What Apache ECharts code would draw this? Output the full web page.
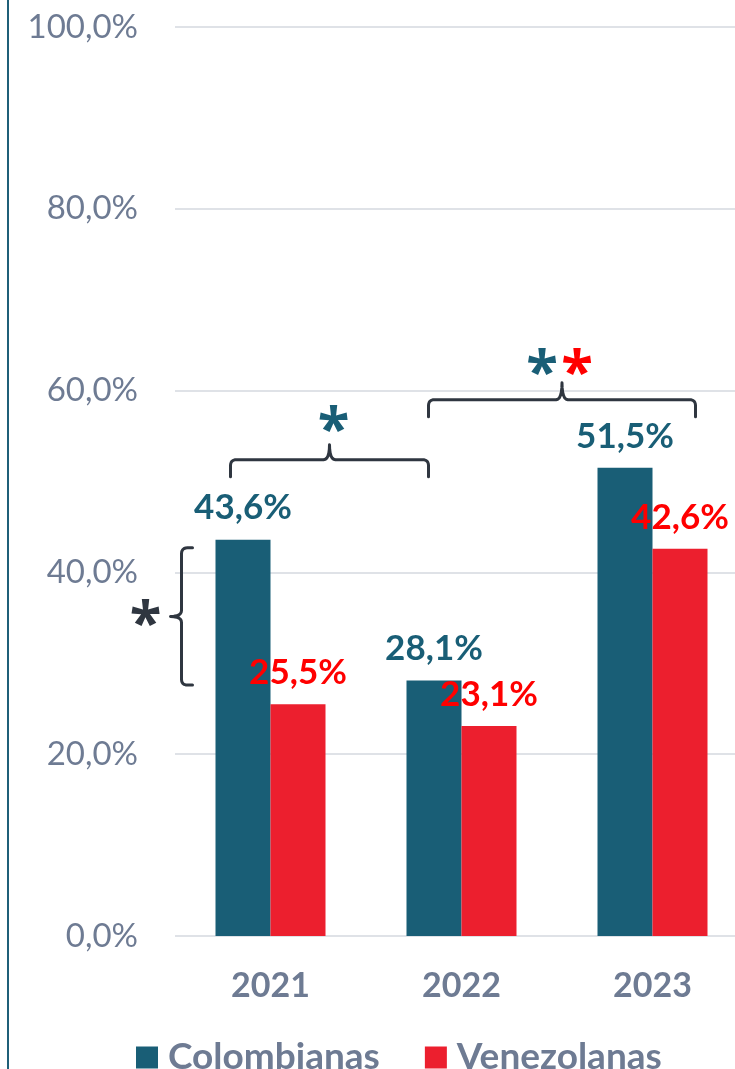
<!DOCTYPE html>
<html><head><meta charset="utf-8">
<script src="https://cdn.jsdelivr.net/npm/echarts@6/dist/echarts.min.js"></script>
<style>html,body{margin:0;padding:0;background:#fff}#c{width:735px;height:1069px}</style>
</head><body><div id="c"></div>
<script>
const categories = ['2021', '2022', '2023'];
const colombianas = [43.6, 28.1, 51.5];
const venezolanas = [25.5, 23.1, 42.6];
const yTicks = [0, 20, 40, 60, 80, 100];
const seriesNames = ['Colombianas', 'Venezolanas'];

const TEAL = '#195e76', RED = '#ec1f2e', LABRED = '#ff0000', GREY = '#6e7b93', DARK = '#2f3640';
const FONT = 'Lato';
const fmt = v => v.toFixed(1).replace('.', ',') + '%';

const chart = echarts.init(document.getElementById('c'), null, {renderer: 'canvas'});
const labelCommon = {show: true, position: 'top', distance: 14, fontFamily: FONT, fontWeight: 'bold', fontSize: 35, formatter: p => fmt(p.value)};
chart.setOption({
  animation: false,
  grid: {left: 175, top: 27, width: 573, height: 909, containLabel: false, outerBoundsMode: 'none'},
  legend: {
    data: seriesNames, top: 1034, left: 131, itemWidth: 22, itemHeight: 22, itemGap: 45, icon: 'rect',
    textStyle: {fontFamily: FONT, fontWeight: 'bold', fontSize: 37, color: GREY, padding: [0, 0, 0, 5]}
  },
  xAxis: {
    type: 'category', data: categories,
    axisLine: {show: false}, axisTick: {show: false},
    axisLabel: {fontFamily: FONT, fontWeight: 'bold', fontSize: 34, color: GREY, margin: 33}
  },
  yAxis: {
    type: 'value', min: 0, max: 100, interval: 20,
    axisLine: {show: false}, axisTick: {show: false},
    splitLine: {lineStyle: {color: '#dfe2e7', width: 2}},
    axisLabel: {fontFamily: FONT, fontSize: 33, color: GREY, margin: 37, formatter: v => yTicks.includes(v) ? fmt(v) : ''}
  },
  series: [
    {name: seriesNames[0], type: 'bar', data: colombianas, barWidth: 55, barGap: '0%', itemStyle: {color: TEAL},
     label: Object.assign({color: TEAL}, labelCommon)},
    {name: seriesNames[1], type: 'bar', data: venezolanas, barWidth: 55, barGap: '0%', itemStyle: {color: RED},
     label: Object.assign({color: LABRED}, labelCommon)}
  ]
});

// annotations positioned from the axes
function px(cat, val) { return chart.convertToPixel({gridIndex: 0}, [cat, val]); }
const g = [];
const ls = {stroke: DARK, lineWidth: 3, fill: null, lineCap: 'round', lineJoin: 'round'};
function quad(pts, p0, c, p1) {
  for (let i = 1; i <= 6; i++) {
    const t = i / 6, a = (1 - t) * (1 - t), b = 2 * (1 - t) * t, d = t * t;
    pts.push([a * p0[0] + b * c[0] + d * p1[0], a * p0[1] + b * c[1] + d * p1[1]]);
  }
}
function hBracket(x1, x2, y, drop, rise) {
  const xm = (x1 + x2) / 2, r = 6, pts = [[x1, y + drop], [x1, y + r]];
  quad(pts, [x1, y + r], [x1, y], [x1 + r, y]);
  pts.push([xm - r, y]);
  quad(pts, [xm - r, y], [xm, y], [xm, y - rise]);
  quad(pts, [xm, y - rise], [xm, y], [xm + r, y]);
  pts.push([x2 - r, y]);
  quad(pts, [x2 - r, y], [x2, y], [x2, y + r]);
  pts.push([x2, y + drop]);
  g.push({type: 'polyline', shape: {points: pts}, style: ls, z: 10});
}
// star glyph: (x, y) is the wanted visual centre of the asterisk
function star(x, y, color) {
  g.push({type: 'text', x: x, y: y + 13, style: {text: '*', fill: color, font: `bold 58px 'Open Sans'`, textAlign: 'center', textVerticalAlign: 'middle'}, z: 10});
}
const c21 = px('2021', 0)[0], c22 = px('2022', 0)[0], c23 = px('2023', 0)[0];
// bracket 2021 -> 2022 (Colombianas)
const yb1 = px('2021', 52.4)[1];
const b1l = c21 - 40, b1r = c22 - 33;
hBracket(b1l, b1r, yb1, 17, 15);
star((b1l + b1r) / 2 + 4, yb1 - 40, TEAL);
// bracket 2022 -> 2023 (both)
const yb2 = px('2022', 59)[1];
const b2l = c22 - 33, b2r = c23 + 43;
hBracket(b2l, b2r, yb2, 17, 17);
const m2 = (b2l + b2r) / 2;
star(m2 - 20, yb2 - 37, TEAL);
star(m2 + 15, yb2 - 37, LABRED);
// vertical bracket 2021 (Colombianas vs Venezolanas)
const yt = px('2021', 42.7)[1], ybt = px('2021', 27.6)[1], xv = c21 - 89;
const ym = (yt + ybt) / 2, r = 6;
const vp = [[xv + 11, yt], [xv + r, yt]];
quad(vp, [xv + r, yt], [xv, yt], [xv, yt + r]);
vp.push([xv, ym - r]);
quad(vp, [xv, ym - r], [xv, ym], [xv - 11, ym]);
quad(vp, [xv - 11, ym], [xv, ym], [xv, ym + r]);
vp.push([xv, ybt - r]);
quad(vp, [xv, ybt - r], [xv, ybt], [xv + r, ybt]);
vp.push([xv + 11, ybt]);
g.push({type: 'polyline', shape: {points: vp}, style: ls, z: 10});
star(xv - 36, ym - 3, DARK);
// left frame line
g.push({type: 'line', shape: {x1: 8, y1: 0, x2: 8, y2: 1069}, style: {stroke: '#1f5f78', lineWidth: 2}});
chart.setOption({graphic: g});
</script></body></html>
